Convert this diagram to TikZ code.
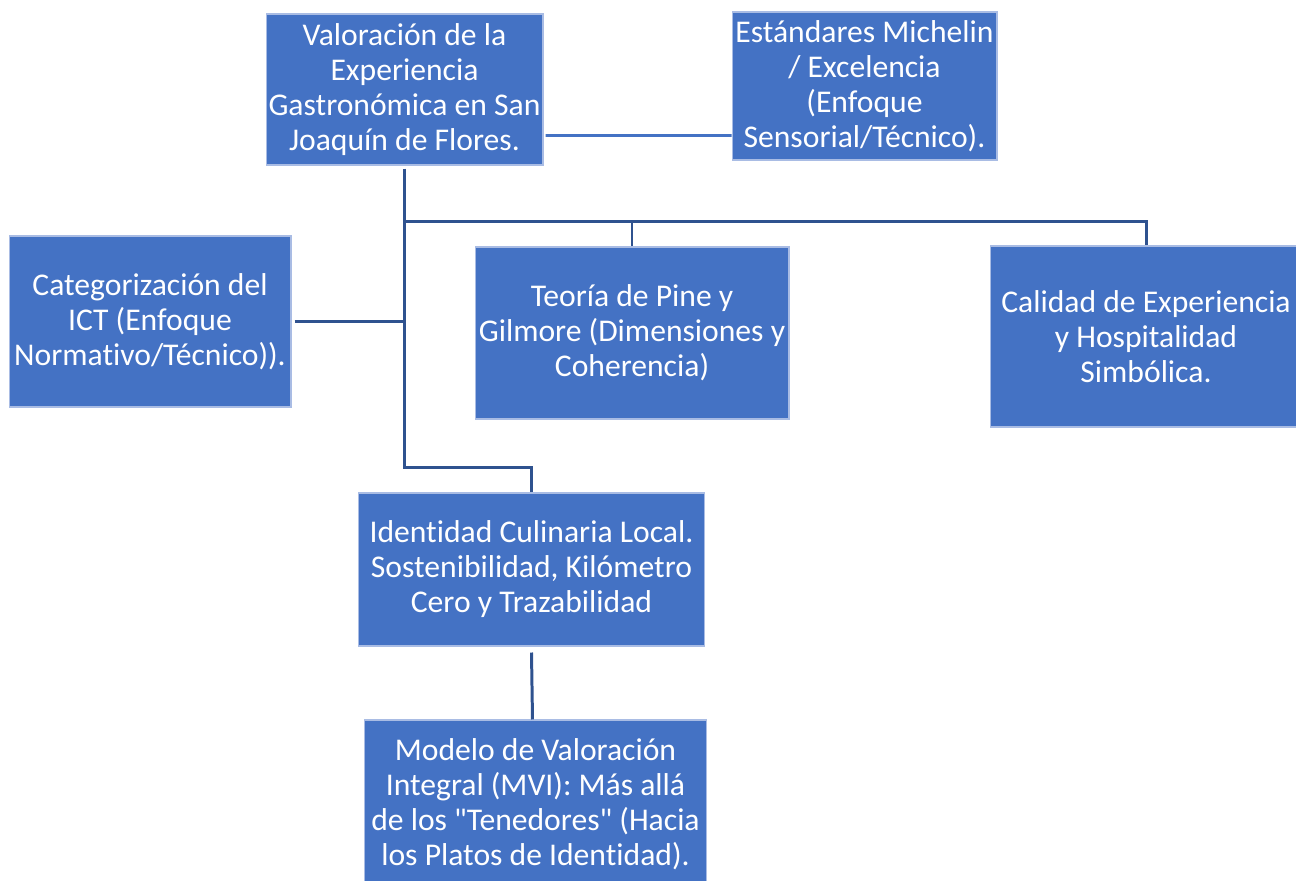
\documentclass[tikz,border=0pt]{standalone}
\usepackage{fontspec}
\setmainfont{Carlito}[Ligatures={NoCommon}]
\usetikzlibrary{calc}
\definecolor{cajaazul}{HTML}{4472C4}
\definecolor{bordeazul}{HTML}{A9BCE4}
\definecolor{lineaazul}{HTML}{2F528F}
\tikzset{
    caja/.style={rectangle, fill=cajaazul, draw=bordeazul, line width=0.6pt, inner sep=0pt,
        align=center, text=white, font=\fontsize{18}{19.9}\selectfont},
    enlace/.style={draw=lineaazul, line width=1.7pt},
    enlaceclaro/.style={draw=cajaazul, line width=1.7pt}
}
\begin{document}
\begin{tikzpicture}[x=0.02cm,y=-0.02cm]
\path[use as bounding box, clip] (0,0) rectangle (1296,881);
\node[caja, minimum width=5.54cm, minimum height=3.02cm] (valoracion) at (404.5,89.5)
    {Valoración de la\\Experiencia\\Gastronómica en San\\Joaquín de Flores.};
\node[caja, minimum width=5.3cm, minimum height=2.96cm] (michelin) at (864.5,86)
    {Estándares Michelin\\/ Excelencia\\(Enfoque\\Sensorial/Técnico).};
\node[caja, minimum width=5.64cm, minimum height=3.42cm] (ict) at (150,321.5)
    {Categorización del\\ICT (Enfoque\\Normativo/Técnico)).};
\node[caja, minimum width=6.28cm, minimum height=3.44cm] (pine) at (632,333)
    {Teoría de Pine y\\Gilmore (Dimensiones y\\Coherencia)};
\node[caja, minimum width=6.24cm, minimum height=3.62cm] (calidad) at (1146,336.5)
    {Calidad de Experiencia\\y Hospitalidad\\Simbólica.};
\node[caja, minimum width=6.94cm, minimum height=3.06cm] (identidad) at (531.5,569.5)
    {Identidad Culinaria Local.\\Sostenibilidad, Kilómetro\\Cero y Trazabilidad};
\node[caja, minimum width=6.86cm, minimum height=3.36cm] (modelo) at (535.5,804)
    {Modelo de Valoración\\Integral (MVI): Más allá\\de los \textquotedbl Tenedores\textquotedbl{} (Hacia\\los Platos de Identidad).};
\coordinate (barra) at ($(valoracion.south)+(0,56)$);
\draw[enlaceclaro] ($(valoracion.south east)+(2,-30)$) -- ($(michelin.south west)+(0,-25)$);
\draw[enlace] ($(valoracion.south)+(0,3)$) |- ($(identidad.north)+(0,-25)$) -- (identidad.north);
\draw[enlace] (barra) -| (pine.north);
\draw[enlace] (barra) -| (calidad.north);
\draw[enlace] ($(ict.east)+(3,0)$) -- (ict.east -| valoracion.south);
\draw[enlace] ($(identidad.south)+(0,6)$) -- ($(modelo.north)+(-3,0)$);
\end{tikzpicture}
\end{document}
